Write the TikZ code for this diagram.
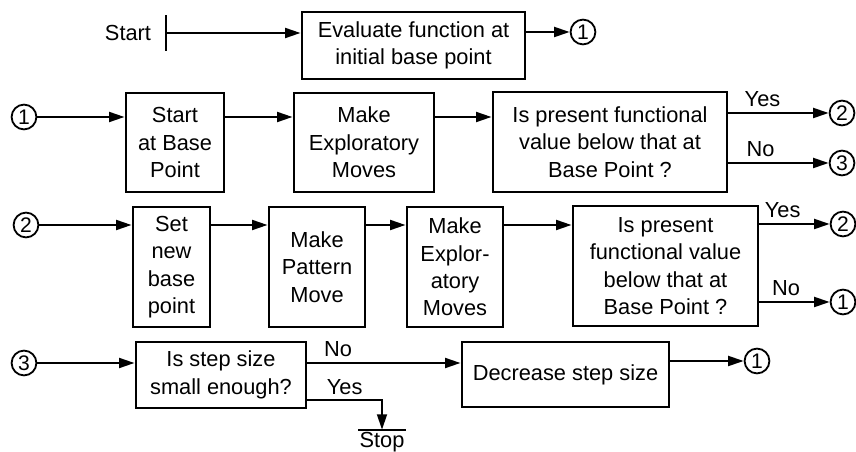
\documentclass[tikz,border=0pt]{standalone}
\usepackage{fontspec}
\setmainfont{Liberation Sans}
\usepackage{tikz}
\usetikzlibrary{arrows.meta}
\usetikzlibrary{positioning}

\begin{document}
\begin{tikzpicture}[x=0.025cm, y=-0.025cm,
  box/.style={draw, line width=2pt, align=center, inner sep=2pt,
    font=\fontsize{15.5}{19.5}\selectfont},
  conn/.style={draw, circle, line width=1.3pt, inner sep=0pt, minimum size=0.62cm,
    font=\fontsize{15}{15}\selectfont},
  lbl/.style={font=\fontsize{15.5}{19.5}\selectfont, inner sep=2pt},
  flow/.style={line width=1.6pt, -{Triangle[length=11pt,width=7pt]}},
]
  \useasboundingbox (0,0) rectangle (856,452);

  % initial evaluation
  \node[lbl] (start) at (128,33) {Start};
  \node[minimum height=0.875cm, minimum width=0pt, inner sep=0pt] (startbar) at (166,33) {};
  \node[box, minimum width=5.575cm, minimum height=1.675cm] (eval) at (413.5,45.5) {Evaluate function at\\initial base point};
  \node[conn] (c1top) at (583,32) {1};

  \draw[line width=1.6pt] (startbar.north) -- (startbar.south);
  \draw[flow] (startbar) -- (startbar -| eval.west);
  \draw[flow] (eval.east |- c1top) -- (c1top);

  % exploratory moves about base point
  \node[conn] (c1a) at (24,117) {1};
  \node[box, minimum width=2.45cm, minimum height=2.475cm] (sbp) at (175,142.5) {Start\\at Base\\Point};
  \node[box, minimum width=3.5cm, minimum height=2.475cm] (mem) at (364,142.5) {Make\\Exploratory\\Moves};
  \node[box, minimum width=5.85cm, minimum height=2.5cm] (q1) at (610,142) {Is present functional\\value below that at\\Base Point ?};
  \node[conn] (c2a) at (842,113) {2};
  \node[conn] (c3a) at (842,163) {3};

  \draw[flow] (c1a) -- (c1a -| sbp.west);
  \draw[flow] (sbp.east |- c1a) -- (mem.west |- c1a);
  \draw[flow] (mem.east |- c1a) -- (q1.west |- c1a);
  \draw[flow] (q1.east |- c2a) -- node[lbl, above=2pt, pos=0.34] (yes1) {Yes} (c2a);
  \draw[flow] (q1.east |- c3a) -- node[lbl, above=2pt, pos=0.32] (no1) {No} (c3a);

  % pattern move
  \node[conn] (c2b) at (26,225) {2};
  \node[box, minimum width=1.925cm, minimum height=3cm] (snb) at (171.5,267) {Set\\new\\base\\point};
  \node[box, minimum width=2.4cm, minimum height=3cm] (mpm) at (317,267) {Make\\Pattern\\Move};
  \node[box, minimum width=2.4cm, minimum height=3cm] (mem2) at (455,267) {Make\\Explor-\\atory\\Moves};
  \node[box, minimum width=4.625cm, minimum height=3cm] (q2) at (665.5,266) {Is present\\functional value\\below that at\\Base Point ?};
  \node[conn] (c2c) at (843,224) {2};
  \node[conn] (c1b) at (843,302) {1};

  \draw[flow] (c2b) -- (c2b -| snb.west);
  \draw[flow] (snb.east |- c2b) -- (mpm.west |- c2b);
  \draw[flow] (mpm.east |- c2b) -- (mem2.west |- c2b);
  \draw[flow] (mem2.east |- c2b) -- (q2.west |- c2b);
  \draw[flow] (q2.east |- c2c) -- node[lbl, above=2pt, pos=0.33] (yes2) {Yes} (c2c);
  \draw[flow] (q2.east |- c1b) -- node[lbl, above=2pt, pos=0.38] (no2) {No} (c1b);

  % step size
  \node[conn] (c3b) at (24,363) {3};
  \node[box, minimum width=4.25cm, minimum height=1.65cm] (step) at (221,375) {Is step size\\small enough?};
  \node[box, minimum width=5.175cm, minimum height=1.625cm] (dec) at (565.5,374.5) {Decrease step size};
  \node[conn] (c1c) at (757,361) {1};
  \node[minimum width=1.175cm, minimum height=0pt, inner sep=0pt] (stopbar) at (382,430) {};
  \node[lbl, inner sep=1pt, below=0pt of stopbar] (stop) {Stop};

  \draw[line width=1.6pt] (stopbar.west) -- (stopbar.east);
  \draw[flow] (c3b) -- (c3b -| step.west);
  \draw[flow] (step.east |- c3b) -- node[lbl, above=2pt, pos=0.2] (no3) {No} (dec.west |- c3b);
  \draw[flow] (dec.east |- c1c) -- (c1c);
  \draw[flow] ([yshift=6.5pt]step.south east) -| node[lbl, above=1pt, pos=0.25] (yes3) {Yes} (stopbar);
\end{tikzpicture}
\end{document}
